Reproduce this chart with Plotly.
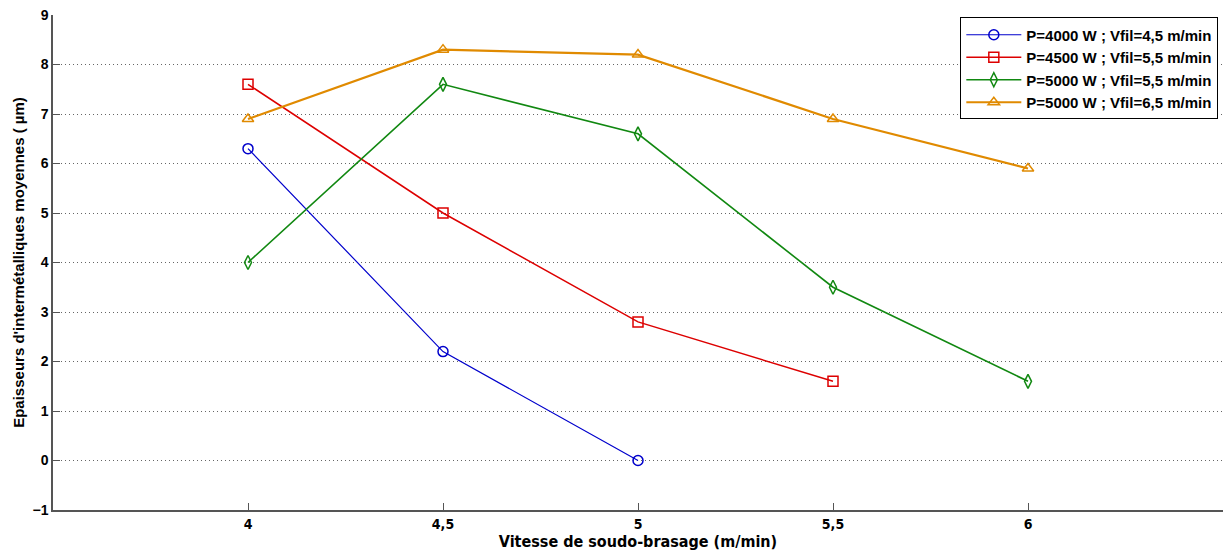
import plotly.graph_objects as go

vitesse = [4, 4.5, 5, 5.5, 6]
series_names = [
    "P=4000 W ; Vfil=4,5 m/min",
    "P=4500 W ; Vfil=5,5 m/min",
    "P=5000 W ; Vfil=5,5 m/min",
    "P=5000 W ; Vfil=6,5 m/min",
]
ep_4000_45 = [6.3, 2.2, 0.0]
ep_4500_55 = [7.6, 5.0, 2.8, 1.6]
ep_5000_55 = [4.0, 7.6, 6.6, 3.5, 1.6]
ep_5000_65 = [6.9, 8.3, 8.2, 6.9, 5.9]

x_tickvals = [4, 4.5, 5, 5.5, 6]
x_ticktext = ["4", "4,5", "5", "5,5", "6"]
y_tickvals = list(range(-1, 10))

styles = [
    ("#0000cc", "circle-open", 1.2),
    ("#dd0000", "square-open", 1.5),
    ("#118811", "diamond-tall-open", 1.6),
    ("#e08a00", "triangle-up-open", 2.2),
]
data = [ep_4000_45, ep_4500_55, ep_5000_55, ep_5000_65]

fig = go.Figure()
for name, ys, (col, sym, w) in zip(series_names, data, styles):
    fig.add_trace(go.Scatter(
        x=vitesse[:len(ys)], y=ys, name="<b>" + name + "</b>", mode="lines+markers",
        line=dict(color=col, width=w),
        marker=dict(symbol=sym, size=10, color=col, line=dict(color=col, width=1.5)),
    ))

font = "Liberation Sans, Arial, sans-serif"
narrow = "DejaVu Sans Condensed, Liberation Sans Narrow, sans-serif"
fig.update_layout(
    width=1223, height=553,
    margin=dict(l=53, r=0, t=15, b=43),
    plot_bgcolor="white", paper_bgcolor="white",
    font=dict(family=font, size=13, color="black"),
    showlegend=True,
    legend=dict(
        x=0.996, y=0.995, xanchor="right", yanchor="top",
        bgcolor="white", bordercolor="black", borderwidth=1,
        font=dict(size=15, family=font),
        tracegroupgap=0, itemwidth=55,
    ),
    xaxis=dict(
        range=[3.5, 6.5], tickvals=x_tickvals, ticktext=x_ticktext,
        showgrid=False, zeroline=False, automargin=False,
        showline=True, linecolor="#555555", linewidth=1.5,
        ticks="inside", ticklen=7, tickcolor="#555555",
        tickfont=dict(size=14, family=narrow, weight="bold"),
        title=dict(text="Vitesse de soudo-brasage (m/min)",
                   font=dict(size=16, family=narrow, weight="bold"), standoff=2),
    ),
    yaxis=dict(
        range=[-1, 9], tickvals=y_tickvals,
        showgrid=True, gridcolor="#666666", griddash="1px,3px", gridwidth=1,
        zeroline=False, automargin=False,
        showline=True, linecolor="#555555", linewidth=1.5,
        ticks="inside", ticklen=7, tickcolor="#555555",
        tickfont=dict(size=14, weight="bold"),
        title=dict(text="Epaisseurs d'intermétalliques moyennes ( \u00b5m)",
                   font=dict(size=15, weight="bold"), standoff=4),
    ),
)

fig.write_html("out.html", config={"displayModeBar": False},
               post_script="document.body.style.margin='0';")
